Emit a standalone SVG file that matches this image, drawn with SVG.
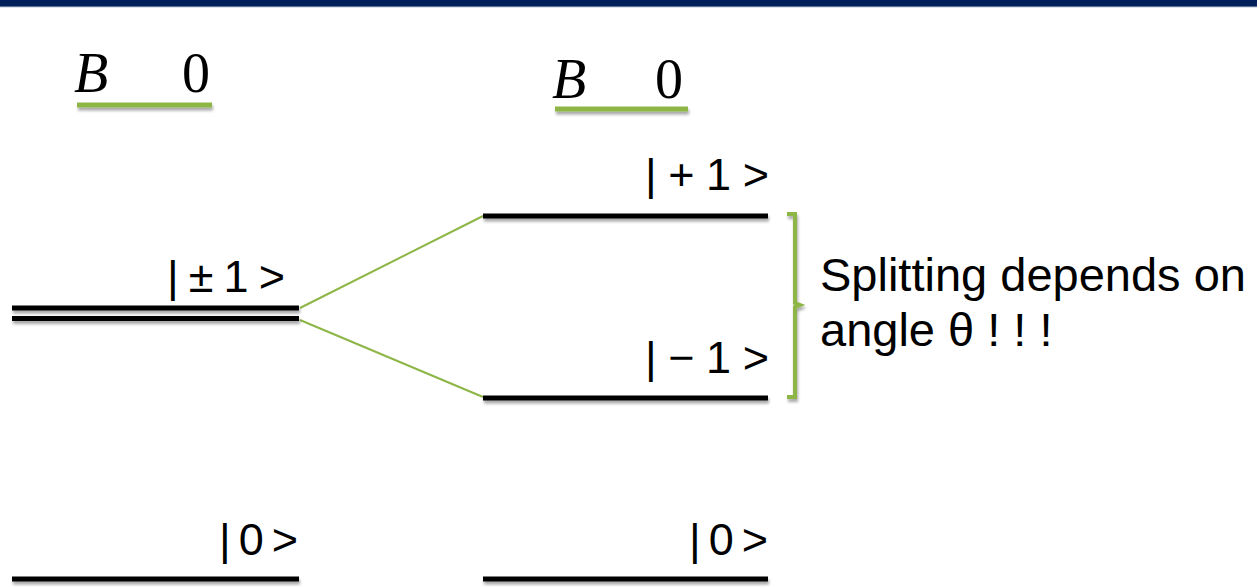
<svg xmlns="http://www.w3.org/2000/svg" width="1257" height="587" viewBox="0 0 1257 587">
<style>
.lvl{stroke:#000;stroke-width:5;fill:none}
.grn{stroke:#8db646;fill:none}
.lab{font-family:"Liberation Sans",Arial,sans-serif;font-size:45px;fill:#000}
.math{font-family:"Liberation Serif","Times New Roman",serif;font-size:56px;fill:#000}
.txt{font-family:"Liberation Sans",Arial,sans-serif;font-size:47px;fill:#000}
</style>
<defs>
<filter id="sh" filterUnits="userSpaceOnUse" x="0" y="0" width="1257" height="587">
<feGaussianBlur in="SourceAlpha" stdDeviation="1.5"/>
<feOffset dx="1" dy="3" result="b"/>
<feComponentTransfer><feFuncA type="linear" slope="0.35"/></feComponentTransfer>
<feMerge><feMergeNode/><feMergeNode in="SourceGraphic"/></feMerge>
</filter>
</defs>
<rect width="1257" height="587" fill="#fff"/>
<g id="header">
<rect x="0" y="0" width="1257" height="6" fill="#001f5b"/>
<rect x="0" y="6" width="1257" height="1.2" fill="#5a6f9a"/>
</g>
<g id="titles">
<g id="title-left">
<text class="math" x="74" y="92" font-style="italic">B</text>
<text class="math" x="182" y="92">0</text>
<line class="grn" x1="77" y1="105" x2="212" y2="105" stroke-width="5" filter="url(#sh)"/>
</g>
<g id="title-right">
<text class="math" x="552" y="98" font-style="italic">B</text>
<text class="math" x="655" y="98">0</text>
<line class="grn" x1="555" y1="109" x2="688" y2="109" stroke-width="5" filter="url(#sh)"/>
</g>
</g>
<g id="connectors">
<line class="grn" x1="300" y1="308" x2="483" y2="216" stroke-width="2"/>
<line class="grn" x1="300" y1="320" x2="483" y2="397" stroke-width="2"/>
<path id="brace" class="grn" stroke-width="4" filter="url(#sh)" d="M787,214 L795,214 L795,303 L800,305 L795,307 L795,397 L787,397"/>
</g>
<g id="level-pm1">
<line class="lvl" x1="12" y1="308" x2="299" y2="308" filter="url(#sh)"/>
<line class="lvl" x1="12" y1="318.5" x2="299" y2="318.5" filter="url(#sh)"/>
<text class="lab" x="167" y="292" textLength="118" lengthAdjust="spacing">|±1&gt;</text>
</g>
<g id="level-p1">
<line class="lvl" x1="483" y1="216" x2="768" y2="216" filter="url(#sh)"/>
<text class="lab" x="645" y="190" textLength="124" lengthAdjust="spacing">|+1&gt;</text>
</g>
<g id="level-m1">
<line class="lvl" x1="483" y1="398" x2="768" y2="398" filter="url(#sh)"/>
<text class="lab" x="645" y="373" textLength="124" lengthAdjust="spacing">|−1&gt;</text>
</g>
<g id="level-0-left">
<line class="lvl" x1="12" y1="579" x2="299" y2="579" filter="url(#sh)"/>
<text class="lab" x="219" y="555" textLength="79" lengthAdjust="spacing">|0&gt;</text>
</g>
<g id="level-0-right">
<line class="lvl" x1="483" y1="579" x2="768" y2="579" filter="url(#sh)"/>
<text class="lab" x="689" y="555" textLength="79" lengthAdjust="spacing">|0&gt;</text>
</g>
<g id="note">
<text class="txt" x="820" y="291">Splitting depends on</text>
<text class="txt" x="820" y="346">angle θ ! ! !</text>
</g>
</svg>
